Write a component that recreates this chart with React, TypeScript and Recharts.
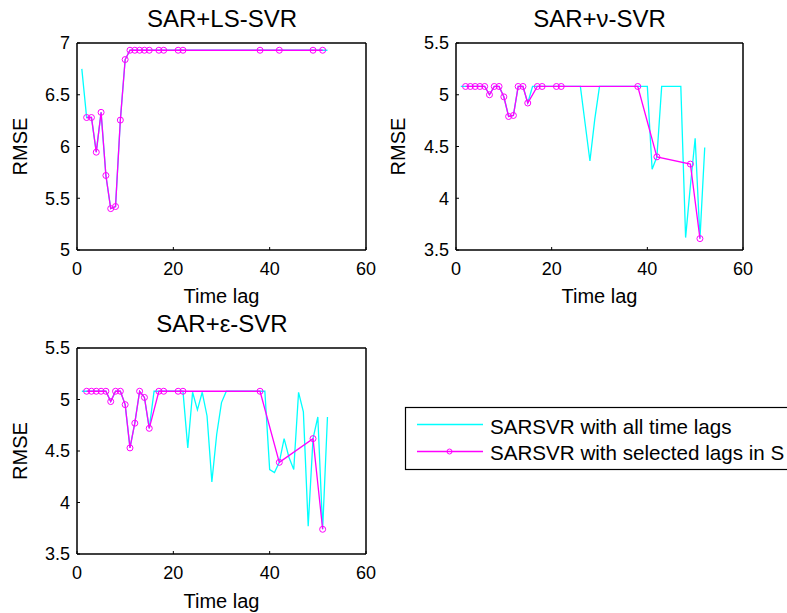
import React from 'react';
import { LineChart, Line, XAxis, YAxis } from 'recharts';

const FONT = '"Liberation Sans", Arial, Helvetica, sans-serif';

const lagsAll = [1, 2, 3, 4, 5, 6, 7, 8, 9, 10, 11, 12, 13, 14, 15, 16, 17, 18, 19, 20, 21, 22, 23, 24, 25, 26, 27, 28, 29, 30, 31, 32, 33, 34, 35, 36, 37, 38, 39, 40, 41, 42, 43, 44, 45, 46, 47, 48, 49, 50, 51, 52];
const lagsSel = [2, 3, 4, 5, 6, 7, 8, 9, 10, 11, 12, 13, 14, 15, 17, 18, 21, 22, 38, 42, 49, 51];

// SAR+LS-SVR
const lsAll = [6.75, 6.28, 6.28, 5.945, 6.33, 5.72, 5.4, 5.42, 6.255, 6.84,
  6.93, 6.93, 6.93, 6.93, 6.93, 6.93, 6.93, 6.93, 6.93, 6.93,
  6.93, 6.93, 6.93, 6.93, 6.93, 6.93, 6.93, 6.93, 6.93, 6.93,
  6.93, 6.93, 6.93, 6.93, 6.93, 6.93, 6.93, 6.93, 6.93, 6.93,
  6.93, 6.93, 6.93, 6.93, 6.93, 6.93, 6.93, 6.93, 6.93, 6.93,
  6.93, 6.93];
const lsSel = [6.28, 6.28, 5.945, 6.33, 5.72, 5.4, 5.42, 6.255, 6.84, 6.93,
  6.93, 6.93, 6.93, 6.93, 6.93, 6.93, 6.93, 6.93, 6.93, 6.93, 6.93, 6.93];

// SAR+nu-SVR
const nuAll = [5.08, 5.08, 5.08, 5.08, 5.08, 5.08, 5.0, 5.08, 5.08, 4.98,
  4.79, 4.8, 5.08, 5.08, 4.92, 5.08, 5.08, 5.08, 5.08, 5.08,
  5.08, 5.08, 5.08, 5.08, 5.08, 5.08, 4.72, 4.36, 4.76, 5.08,
  5.08, 5.08, 5.08, 5.08, 5.08, 5.08, 5.08, 5.08, 5.08, 5.08,
  4.28, 4.4, 5.08, 5.08, 5.08, 5.08, 5.08, 3.62, 4.12, 4.58,
  3.61, 4.49];
const nuSel = [5.08, 5.08, 5.08, 5.08, 5.08, 5.0, 5.08, 5.08, 4.98, 4.79,
  4.8, 5.08, 5.08, 4.92, 5.08, 5.08, 5.08, 5.08, 5.08, 4.4, 4.33, 3.61];

// SAR+epsilon-SVR
const epsAll = [5.08, 5.08, 5.08, 5.08, 5.08, 5.08, 4.98, 5.08, 5.08, 4.95,
  4.53, 4.77, 5.08, 5.02, 4.72, 5.08, 5.08, 5.08, 5.08, 5.08,
  5.08, 5.08, 4.53, 5.07, 4.9, 5.07, 4.84, 4.2, 4.66, 4.97,
  5.08, 5.08, 5.08, 5.08, 5.08, 5.08, 5.08, 5.08, 5.08, 4.32,
  4.29, 4.39, 4.62, 4.44, 4.32, 5.07, 4.88, 3.77, 4.62, 4.83,
  3.74, 4.83];
const epsSel = [5.08, 5.08, 5.08, 5.08, 5.08, 4.98, 5.08, 5.08, 4.95, 4.53,
  4.77, 5.08, 5.02, 4.72, 5.08, 5.08, 5.08, 5.08, 5.08, 4.39, 4.62, 3.74];

const xTicks = [0, 20, 40, 60];
const yTicksLS = [5, 5.5, 6, 6.5, 7];
const yTicksSVR = [3.5, 4, 4.5, 5, 5.5];

const titles = ['SAR+LS-SVR', 'SAR+\u03bd-SVR', 'SAR+\u03b5-SVR'];
const xLabel = 'Time lag';
const yLabel = 'RMSE';
const legendLabels = ['SARSVR with all time lags', 'SARSVR with selected lags in S'];

const zip = (xs: number[], ys: number[]) => xs.map((x, i) => ({ x, y: ys[i] }));

type PanelProps = {
  left: number; top: number; width: number; height: number;
  plotLeft: number; plotTop: number; plotRight: number; plotBottom: number;
  yDomain: [number, number]; yTicks: number[];
  all: { x: number; y: number }[]; sel: { x: number; y: number }[];
};

function Panel(p: PanelProps) {
  const tickStyle = { fill: '#000', fontSize: 18, fontFamily: FONT };
  const axisLine = { stroke: '#000', strokeWidth: 1.5 };
  const tickLine = { stroke: '#000', strokeWidth: 1 };
  return (
    <div style={{ position: 'absolute', left: p.left, top: p.top }}>
      <LineChart
        width={p.width}
        height={p.height}
        margin={{ top: p.plotTop - 1, right: p.width - p.plotRight - 1, bottom: 0, left: 0 }}
      >
        <XAxis xAxisId="b" type="number" dataKey="x" domain={[0, 60]} ticks={xTicks}
          orientation="bottom" height={p.height - p.plotBottom} allowDataOverflow
          axisLine={axisLine} tickLine={tickLine}
          tickSize={-3} tickMargin={15} tick={tickStyle} interval={0} />
        <XAxis xAxisId="t" type="number" dataKey="x" domain={[0, 60]} ticks={xTicks}
          orientation="top" height={1} allowDataOverflow
          axisLine={axisLine} tickLine={tickLine}
          tickSize={-3} tick={false} interval={0} />
        <YAxis yAxisId="l" type="number" domain={p.yDomain} ticks={p.yTicks}
          orientation="left" width={p.plotLeft} allowDataOverflow
          axisLine={axisLine} tickLine={tickLine}
          tickSize={-3} tickMargin={10} tick={tickStyle} interval={0} />
        <YAxis yAxisId="r" type="number" domain={p.yDomain} ticks={p.yTicks}
          orientation="right" width={1} allowDataOverflow
          axisLine={axisLine} tickLine={tickLine}
          tickSize={-3} tick={false} interval={0} />
        <Line xAxisId="b" yAxisId="l" data={p.all} dataKey="y" type="linear"
          stroke="#00FFFF" strokeWidth={1.3} dot={false} isAnimationActive={false} />
        <Line xAxisId="b" yAxisId="l" data={p.sel} dataKey="y" type="linear"
          stroke="#FF00FF" strokeWidth={1.3}
          dot={{ r: 3, fill: 'none', stroke: '#FF00FF', strokeWidth: 1 }}
          isAnimationActive={false} />
      </LineChart>
    </div>
  );
}

export default function App() {
  const titleSize = 24;
  const labelSize = 20;
  return (
    <div style={{ position: 'absolute', left: 0, top: 0, width: 787, height: 613, overflow: 'hidden', background: '#fff', fontFamily: FONT }}>
      <Panel left={0} top={0} width={400} height={300}
        plotLeft={77} plotTop={43} plotRight={366} plotBottom={250}
        yDomain={[5, 7]} yTicks={yTicksLS} all={zip(lagsAll, lsAll)} sel={zip(lagsSel, lsSel)} />
      <Panel left={380} top={0} width={407} height={300}
        plotLeft={76} plotTop={43} plotRight={363} plotBottom={250}
        yDomain={[3.5, 5.5]} yTicks={yTicksSVR} all={zip(lagsAll, nuAll)} sel={zip(lagsSel, nuSel)} />
      <Panel left={0} top={305} width={400} height={300}
        plotLeft={77} plotTop={43} plotRight={366} plotBottom={249}
        yDomain={[3.5, 5.5]} yTicks={yTicksSVR} all={zip(lagsAll, epsAll)} sel={zip(lagsSel, epsSel)} />
      <svg width={787} height={613} style={{ position: 'absolute', left: 0, top: 0, pointerEvents: 'none' }}>
        <g fontFamily={FONT} fill="#000">
          <text x={222} y={27} fontSize={titleSize} textAnchor="middle">{titles[0]}</text>
          <text x={599.5} y={27} fontSize={titleSize} textAnchor="middle">{titles[1]}</text>
          <text x={222} y={332} fontSize={titleSize} textAnchor="middle">{titles[2]}</text>
          <text x={221.5} y={303} fontSize={labelSize} textAnchor="middle">{xLabel}</text>
          <text x={599.5} y={303} fontSize={labelSize} textAnchor="middle">{xLabel}</text>
          <text x={221.5} y={608} fontSize={labelSize} textAnchor="middle">{xLabel}</text>
          <text x={0} y={0} fontSize={labelSize} textAnchor="middle" transform="translate(27 146.5) rotate(-90)">{yLabel}</text>
          <text x={0} y={0} fontSize={labelSize} textAnchor="middle" transform="translate(405 146.5) rotate(-90)">{yLabel}</text>
          <text x={0} y={0} fontSize={labelSize} textAnchor="middle" transform="translate(27 451) rotate(-90)">{yLabel}</text>
        </g>
        <g>
          <rect x={405.5} y={407.5} width={420} height={62} fill="#fff" stroke="#000" strokeWidth={1.2} />
          <line x1={417} y1={424.5} x2={483} y2={424.5} stroke="#00FFFF" strokeWidth={1.3} />
          <line x1={417} y1={451.5} x2={483} y2={451.5} stroke="#FF00FF" strokeWidth={1.3} />
          <circle cx={449.5} cy={451.5} r={2.5} fill="none" stroke="#FF00FF" strokeWidth={1} />
          <text x={490} y={434} fontSize={20.6} fontFamily={FONT} fill="#000">{legendLabels[0]}</text>
          <text x={490} y={460} fontSize={20.6} fontFamily={FONT} fill="#000">{legendLabels[1]}</text>
        </g>
      </svg>
    </div>
  );
}
